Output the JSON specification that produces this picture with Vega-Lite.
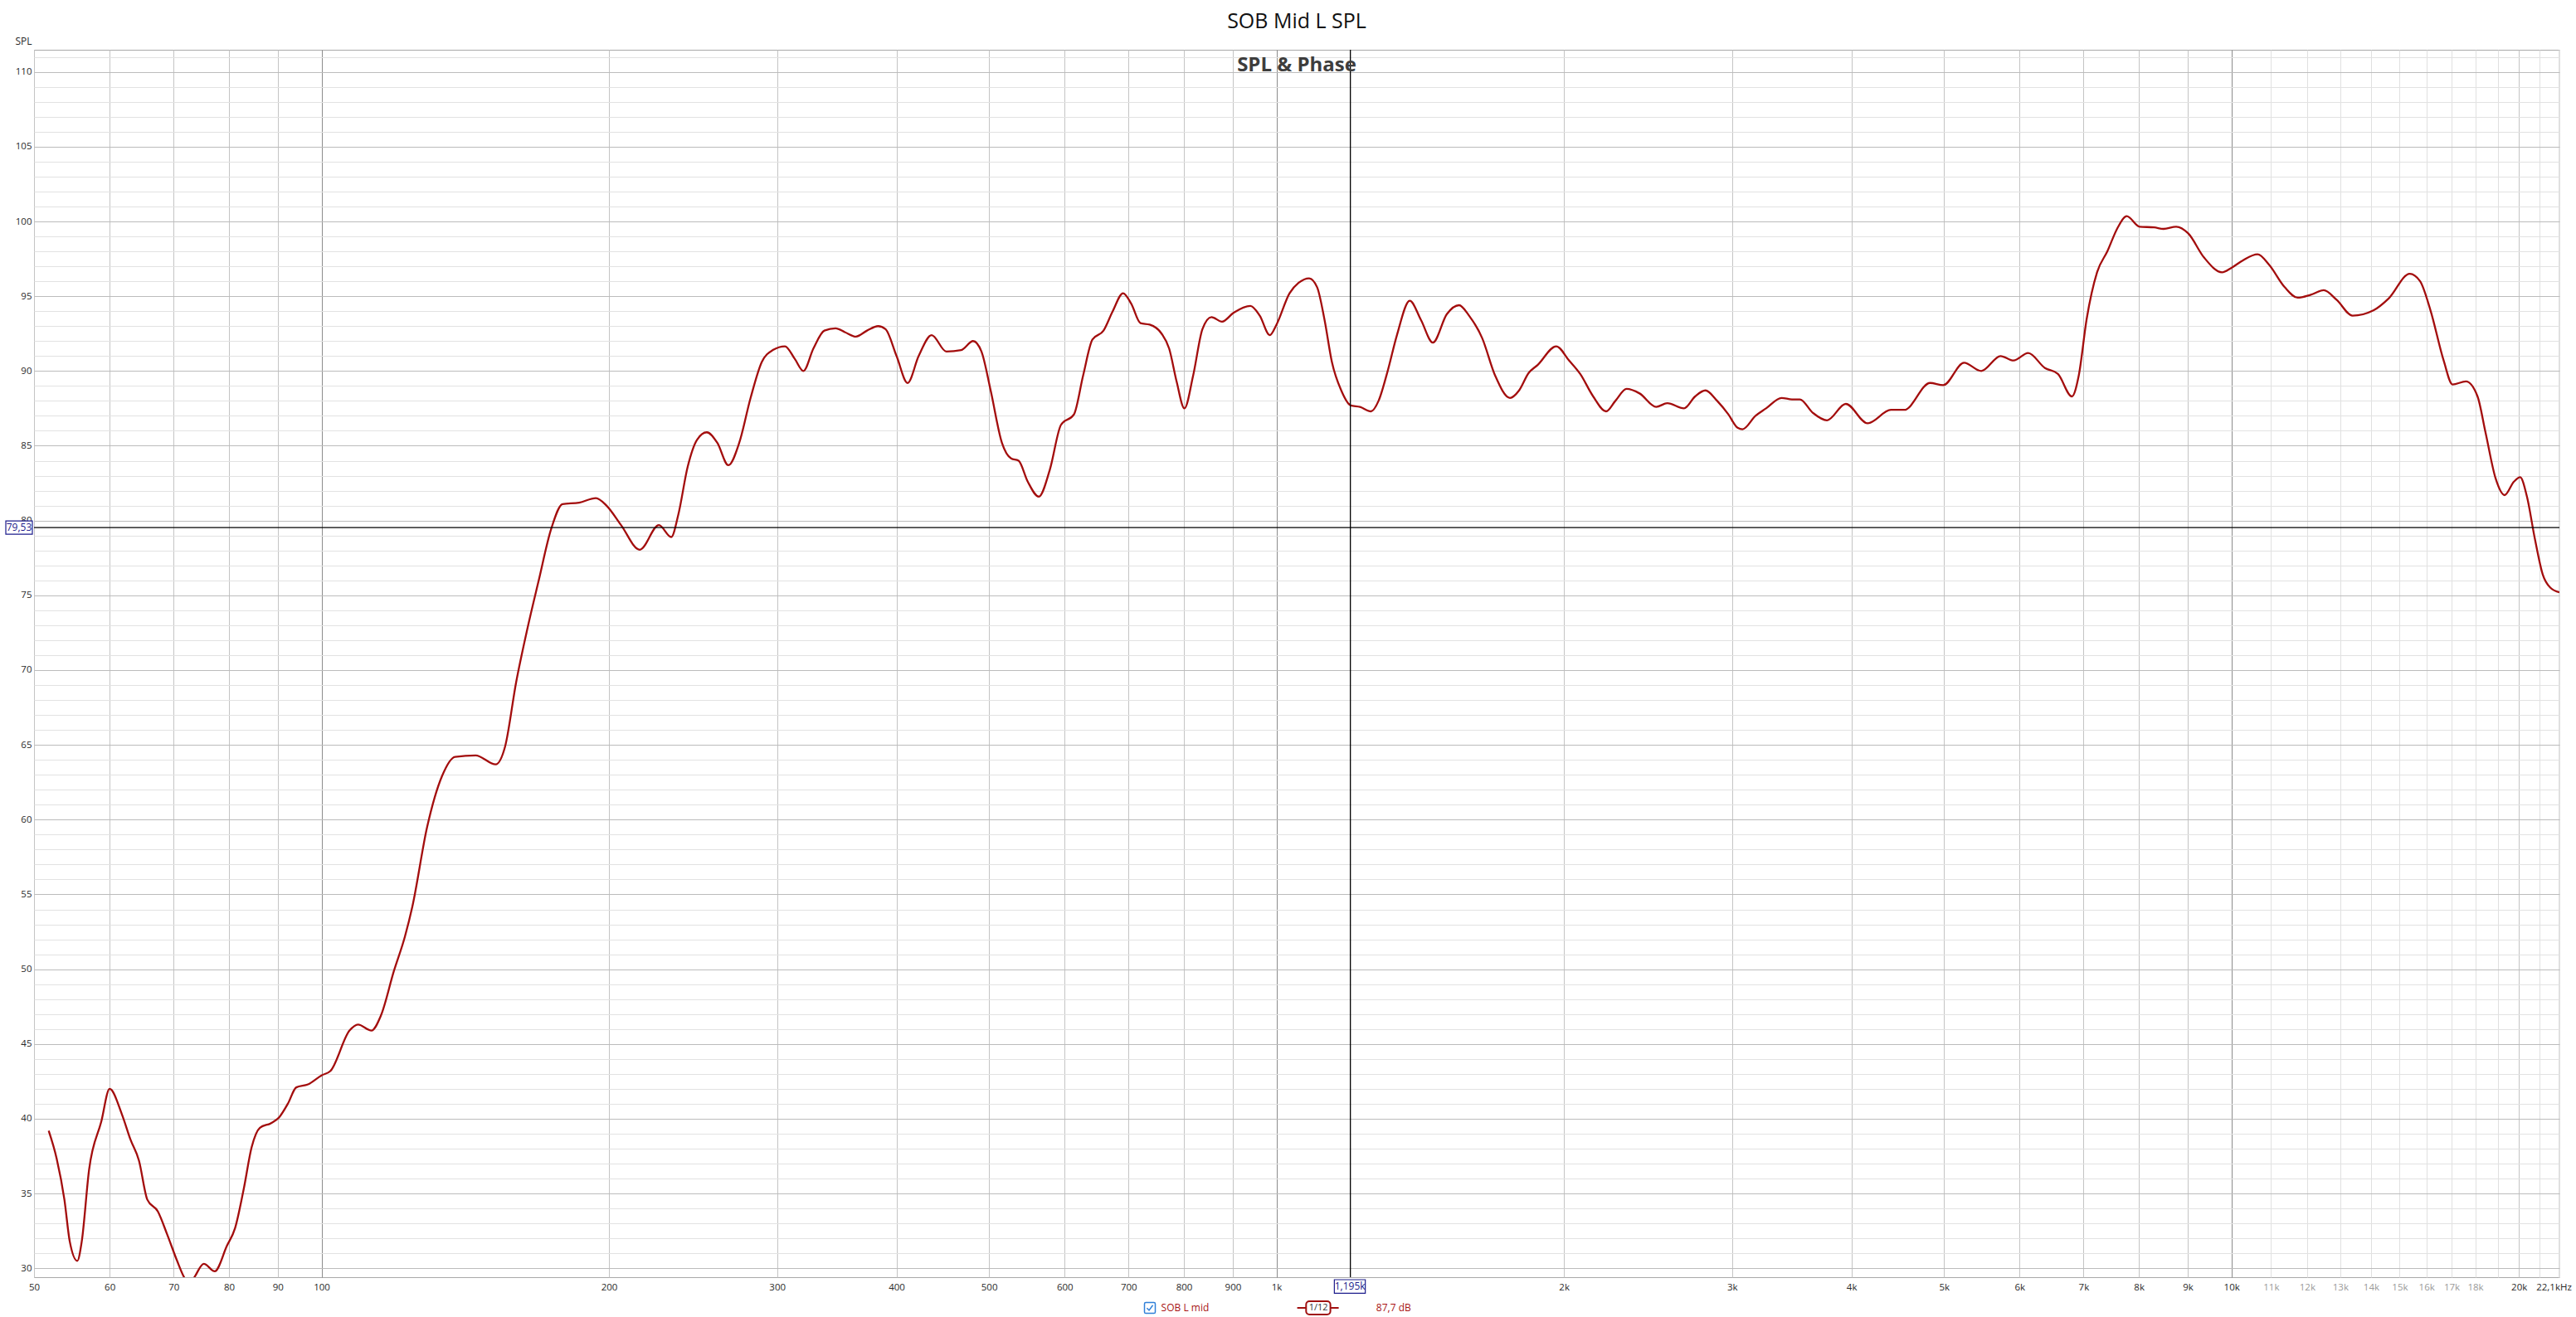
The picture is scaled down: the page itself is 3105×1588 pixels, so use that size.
{
  "$schema": "https://vega.github.io/schema/vega-lite/v6.json",
  "width": 3044,
  "height": 1480,
  "autosize": {"type": "none"},
  "padding": {"left": 41, "top": 60, "right": 20, "bottom": 48},
  "background": "white",
  "title": {
    "text": "SOB Mid L SPL",
    "subtitle": "SPL & Phase",
    "frame": "group",
    "anchor": "middle",
    "font": "Open Sans",
    "fontSize": 25,
    "fontWeight": "normal",
    "color": "#111111",
    "subtitleFont": "Open Sans",
    "subtitleFontSize": 24,
    "subtitleFontWeight": "bold",
    "subtitleColor": "#3d3d3d",
    "subtitlePadding": 28,
    "offset": -48
  },
  "config": {
    "font": "Open Sans",
    "view": {"stroke": "#a9a9a9", "strokeWidth": 1}
  },
  "layer": [
    {
      "data": {"values": [
        {"f": 51.8, "spl": 39.2}, {"f": 52.8, "spl": 37.35}, {"f": 53.8, "spl": 34.6}, {"f": 54.5, "spl": 31.8},
        {"f": 55.5, "spl": 30.5}, {"f": 56.1, "spl": 31.8}, {"f": 57.1, "spl": 36.6}, {"f": 58.8, "spl": 39.8},
        {"f": 60.0, "spl": 42.0}, {"f": 61.8, "spl": 40.3}, {"f": 63.1, "spl": 38.6}, {"f": 64.4, "spl": 37.2},
        {"f": 65.7, "spl": 34.6}, {"f": 67.4, "spl": 33.8}, {"f": 68.9, "spl": 32.3}, {"f": 70.6, "spl": 30.5},
        {"f": 71.8, "spl": 29.4}, {"f": 72.7, "spl": 28.9}, {"f": 73.6, "spl": 29.4}, {"f": 75.3, "spl": 30.3},
        {"f": 77.3, "spl": 29.8}, {"f": 79.6, "spl": 31.5}, {"f": 81.2, "spl": 32.7}, {"f": 82.9, "spl": 35.3},
        {"f": 84.5, "spl": 38.1}, {"f": 86.2, "spl": 39.4}, {"f": 88.5, "spl": 39.7}, {"f": 90.3, "spl": 40.1},
        {"f": 92.2, "spl": 41.0}, {"f": 94.1, "spl": 42.1}, {"f": 96.8, "spl": 42.3}, {"f": 100, "spl": 42.9},
        {"f": 102.2, "spl": 43.2}, {"f": 107, "spl": 45.9}, {"f": 109.2, "spl": 46.3}, {"f": 112.8, "spl": 45.9},
        {"f": 115.4, "spl": 46.9}, {"f": 119.1, "spl": 49.9}, {"f": 122.3, "spl": 52.2}, {"f": 124.5, "spl": 54.2},
        {"f": 129, "spl": 59.5}, {"f": 133.7, "spl": 62.9}, {"f": 138, "spl": 64.2}, {"f": 145, "spl": 64.3},
        {"f": 152.2, "spl": 63.7}, {"f": 155.7, "spl": 64.9}, {"f": 159.9, "spl": 69.2}, {"f": 164.2, "spl": 72.7},
        {"f": 168.7, "spl": 75.9}, {"f": 174.1, "spl": 79.5}, {"f": 178.8, "spl": 81.1}, {"f": 186.1, "spl": 81.2},
        {"f": 193.8, "spl": 81.5}, {"f": 198.8, "spl": 81.0}, {"f": 205.9, "spl": 79.7}, {"f": 215.4, "spl": 78.05},
        {"f": 225.6, "spl": 79.7}, {"f": 232.4, "spl": 78.9}, {"f": 236.4, "spl": 80.4}, {"f": 241.8, "spl": 83.6},
        {"f": 247.3, "spl": 85.4}, {"f": 253.2, "spl": 85.9}, {"f": 259.7, "spl": 85.2}, {"f": 266.7, "spl": 83.7},
        {"f": 273.8, "spl": 85.2}, {"f": 281.4, "spl": 88.2}, {"f": 289.1, "spl": 90.6}, {"f": 296.9, "spl": 91.4},
        {"f": 305.7, "spl": 91.65}, {"f": 313.1, "spl": 90.8}, {"f": 319.6, "spl": 90.0}, {"f": 327.4, "spl": 91.5},
        {"f": 336.2, "spl": 92.7}, {"f": 345.4, "spl": 92.85}, {"f": 353.2, "spl": 92.6}, {"f": 362.8, "spl": 92.3},
        {"f": 372.6, "spl": 92.7}, {"f": 382.7, "spl": 93.0}, {"f": 389.6, "spl": 92.8}, {"f": 400.1, "spl": 91.0},
        {"f": 410.9, "spl": 89.2}, {"f": 422, "spl": 91.0}, {"f": 435.4, "spl": 92.4}, {"f": 451.2, "spl": 91.3},
        {"f": 467.6, "spl": 91.4}, {"f": 481.2, "spl": 92.0}, {"f": 491, "spl": 91.3}, {"f": 502, "spl": 88.7},
        {"f": 515.8, "spl": 85.2}, {"f": 527.4, "spl": 84.15}, {"f": 537, "spl": 84.0}, {"f": 549, "spl": 82.6},
        {"f": 563.8, "spl": 81.6}, {"f": 579, "spl": 83.4}, {"f": 594.8, "spl": 86.4}, {"f": 613.7, "spl": 87.1},
        {"f": 627.4, "spl": 89.7}, {"f": 641.6, "spl": 92.1}, {"f": 659, "spl": 92.7}, {"f": 673.8, "spl": 94.0},
        {"f": 690.8, "spl": 95.2}, {"f": 704.5, "spl": 94.5}, {"f": 720.4, "spl": 93.2}, {"f": 736.6, "spl": 93.1},
        {"f": 758, "spl": 92.5}, {"f": 772, "spl": 91.5}, {"f": 786, "spl": 89.3}, {"f": 801, "spl": 87.5},
        {"f": 818, "spl": 89.7}, {"f": 836.5, "spl": 92.8}, {"f": 855, "spl": 93.6}, {"f": 877, "spl": 93.3},
        {"f": 902, "spl": 93.9}, {"f": 939, "spl": 94.35}, {"f": 960.5, "spl": 93.7}, {"f": 984, "spl": 92.4},
        {"f": 1000, "spl": 93.1}, {"f": 1032, "spl": 95.2}, {"f": 1055, "spl": 95.9}, {"f": 1082, "spl": 96.2},
        {"f": 1103, "spl": 95.6}, {"f": 1123, "spl": 93.4}, {"f": 1143, "spl": 90.6}, {"f": 1169, "spl": 88.7},
        {"f": 1196, "spl": 87.7}, {"f": 1223, "spl": 87.6}, {"f": 1256, "spl": 87.3}, {"f": 1279, "spl": 88.0},
        {"f": 1307.5, "spl": 90.0}, {"f": 1337, "spl": 92.4}, {"f": 1379, "spl": 94.7}, {"f": 1417, "spl": 93.4},
        {"f": 1458, "spl": 91.9}, {"f": 1508, "spl": 93.8}, {"f": 1553, "spl": 94.4}, {"f": 1591, "spl": 93.7},
        {"f": 1642, "spl": 92.2}, {"f": 1694, "spl": 89.7}, {"f": 1756, "spl": 88.2}, {"f": 1795, "spl": 88.7},
        {"f": 1836, "spl": 89.85}, {"f": 1877, "spl": 90.4}, {"f": 1963, "spl": 91.65}, {"f": 2025, "spl": 90.7},
        {"f": 2080, "spl": 89.8}, {"f": 2146, "spl": 88.3}, {"f": 2214, "spl": 87.3}, {"f": 2264, "spl": 88.0},
        {"f": 2326, "spl": 88.8}, {"f": 2400, "spl": 88.5}, {"f": 2498, "spl": 87.6}, {"f": 2566, "spl": 87.85},
        {"f": 2671, "spl": 87.5}, {"f": 2744, "spl": 88.3}, {"f": 2813, "spl": 88.7}, {"f": 2894, "spl": 88.0},
        {"f": 2973, "spl": 87.1}, {"f": 3040, "spl": 86.2}, {"f": 3076, "spl": 86.1}, {"f": 3174, "spl": 87.0},
        {"f": 3256, "spl": 87.5}, {"f": 3380, "spl": 88.2}, {"f": 3466, "spl": 88.1}, {"f": 3532, "spl": 88.1},
        {"f": 3645, "spl": 87.2}, {"f": 3771, "spl": 86.7}, {"f": 3946, "spl": 87.8}, {"f": 4159, "spl": 86.5},
        {"f": 4400, "spl": 87.4}, {"f": 4543, "spl": 87.4}, {"f": 4836, "spl": 89.2}, {"f": 4991, "spl": 89.05},
        {"f": 5248, "spl": 90.55}, {"f": 5470, "spl": 90.0}, {"f": 5731, "spl": 91.0}, {"f": 5913, "spl": 90.7},
        {"f": 6125, "spl": 91.2}, {"f": 6378, "spl": 90.2}, {"f": 6581, "spl": 89.8}, {"f": 6807, "spl": 88.3},
        {"f": 6920, "spl": 89.7}, {"f": 7054, "spl": 93.5}, {"f": 7232, "spl": 96.6}, {"f": 7414, "spl": 98.0},
        {"f": 7603, "spl": 99.6}, {"f": 7768, "spl": 100.35}, {"f": 8013, "spl": 99.65}, {"f": 8300, "spl": 99.6},
        {"f": 8491, "spl": 99.5}, {"f": 8752, "spl": 99.65}, {"f": 9010, "spl": 99.2}, {"f": 9357, "spl": 97.6},
        {"f": 9776, "spl": 96.6}, {"f": 10000, "spl": 96.9}, {"f": 10280, "spl": 97.4}, {"f": 10650, "spl": 97.8},
        {"f": 10950, "spl": 97.1}, {"f": 11370, "spl": 95.6}, {"f": 11730, "spl": 94.9}, {"f": 12110, "spl": 95.1},
        {"f": 12490, "spl": 95.4}, {"f": 12890, "spl": 94.75}, {"f": 13390, "spl": 93.7}, {"f": 14080, "spl": 94.05},
        {"f": 14610, "spl": 94.85}, {"f": 15370, "spl": 96.5}, {"f": 15760, "spl": 96.0}, {"f": 16160, "spl": 94.05},
        {"f": 16680, "spl": 90.7}, {"f": 17040, "spl": 89.1}, {"f": 17600, "spl": 89.3}, {"f": 18100, "spl": 88.3},
        {"f": 18450, "spl": 85.9}, {"f": 18910, "spl": 82.8}, {"f": 19320, "spl": 81.7}, {"f": 19760, "spl": 82.6},
        {"f": 20060, "spl": 82.9}, {"f": 20390, "spl": 81.6}, {"f": 20780, "spl": 78.8}, {"f": 21180, "spl": 76.4},
        {"f": 21580, "spl": 75.5}, {"f": 22050, "spl": 75.2}
      ]},
      "mark": {"type": "line", "color": "#a30d0d", "strokeWidth": 2.3, "interpolate": "monotone", "clip": true},
      "encoding": {
        "x": {
          "field": "f", "type": "quantitative",
          "scale": {"type": "log", "domain": [50, 22050], "nice": false},
          "axis": {
            "title": null,
            "tickCount": 500,
            "values": [50, 60, 70, 80, 90, 100, 200, 300, 400, 500, 600, 700, 800, 900, 1000, 2000, 3000, 4000, 5000, 6000, 7000, 8000, 9000, 10000, 11000, 12000, 13000, 14000, 15000, 16000, 17000, 18000, 19000, 20000, 21000, 22000, 22050],
            "labelExpr": "datum.value == 22050 ? '22,1kHz' : (datum.value == 19000 || datum.value == 21000 || datum.value == 22000) ? '' : datum.value >= 1000 ? (datum.value / 1000) + 'k' : '' + datum.value",
            "labelOverlap": false,
            "labelBound": false,
            "labelFlush": false,
            "ticks": false,
            "tickSize": 0,
            "domain": false,
            "labelPadding": 6,
            "labelFontSize": 11.5,
            "labelFont": "Open Sans",
            "labelOffset": {"condition": {"test": "datum.value == 22050", "value": -7}, "value": 0},
            "labelColor": {"condition": {"test": "datum.value > 10000 && datum.value < 19000", "value": "#9a9a9a"}, "value": "#2a2a2a"},
            "gridColor": {"condition": [
              {"test": "datum.value == 100 || datum.value == 1000 || datum.value == 10000", "value": "#8c8c8c"},
              {"test": "datum.value > 10000 && datum.value != 20000", "value": "#e0e0e0"}
            ], "value": "#c4c4c4"},
            "gridOpacity": 1,
            "gridWidth": 1
          }
        },
        "y": {
          "field": "spl", "type": "quantitative",
          "scale": {"domain": [29.407, 111.479], "nice": false, "zero": false},
          "axis": {
            "title": "SPL",
            "titleAngle": 0,
            "titleX": -3,
            "titleY": -7,
            "titleAlign": "right",
            "titleBaseline": "alphabetic",
            "titleFontSize": 12,
            "titleFontWeight": "normal",
            "titleColor": "#2a2a2a",
            "titleFont": "Open Sans",
            "tickCount": 500,
            "values": [30, 31, 32, 33, 34, 35, 36, 37, 38, 39, 40, 41, 42, 43, 44, 45, 46, 47, 48, 49, 50, 51, 52, 53, 54, 55, 56, 57, 58, 59, 60, 61, 62, 63, 64, 65, 66, 67, 68, 69, 70, 71, 72, 73, 74, 75, 76, 77, 78, 79, 80, 81, 82, 83, 84, 85, 86, 87, 88, 89, 90, 91, 92, 93, 94, 95, 96, 97, 98, 99, 100, 101, 102, 103, 104, 105, 106, 107, 108, 109, 110, 111],
            "labelExpr": "datum.value % 5 == 0 ? '' + datum.value : ''",
            "labelOverlap": false,
            "labelBound": false,
            "ticks": false,
            "tickSize": 0,
            "domain": false,
            "labelPadding": 3,
            "labelFontSize": 11.5,
            "labelFont": "Open Sans",
            "labelColor": "#2a2a2a",
            "gridColor": {"condition": {"test": "datum.value % 5 == 0", "value": "#bcbcbc"}, "value": "#e2e2e2"},
            "gridOpacity": 1,
            "gridWidth": 1
          }
        }
      }
    },
    {
      "data": {"values": [{}]},
      "mark": {"type": "rule", "color": "#000000", "strokeWidth": 1.3},
      "encoding": {"y": {"datum": 79.53}}
    },
    {
      "data": {"values": [{}]},
      "mark": {"type": "rule", "color": "#000000", "strokeWidth": 1.3},
      "encoding": {"x": {"datum": 1195}}
    },
    {
      "data": {"values": [{}]},
      "mark": {"type": "rect", "fill": "white", "stroke": "#1c1c8c", "strokeWidth": 1.2, "xOffset": -34, "x2Offset": -2, "yOffset": -8, "y2Offset": 8},
      "encoding": {"x": {"datum": 50}, "x2": {"datum": 50}, "y": {"datum": 79.53}, "y2": {"datum": 79.53}}
    },
    {
      "data": {"values": [{}]},
      "mark": {"type": "text", "text": "79,53", "align": "center", "baseline": "middle", "dx": -18, "fontSize": 12, "color": "#1c1c8c", "font": "Open Sans"},
      "encoding": {"x": {"datum": 50}, "y": {"datum": 79.53}}
    },
    {
      "data": {"values": [{}]},
      "mark": {"type": "rect", "fill": "white", "stroke": "#1c1c8c", "strokeWidth": 1.2, "xOffset": -19.3, "x2Offset": 18, "yOffset": 3, "y2Offset": 19.3},
      "encoding": {"x": {"datum": 1195}, "x2": {"datum": 1195}, "y": {"datum": 29.407}, "y2": {"datum": 29.407}}
    },
    {
      "data": {"values": [{}]},
      "mark": {"type": "text", "text": "1,195k", "align": "center", "baseline": "middle", "dx": -0.5, "dy": 11, "fontSize": 12, "color": "#1c1c8c", "font": "Open Sans"},
      "encoding": {"x": {"datum": 1195}, "y": {"datum": 29.407}}
    },
    {
      "data": {"values": [{}]},
      "mark": {"type": "point", "shape": "M-1,-0.75 Q-1,-1 -0.75,-1 L0.75,-1 Q1,-1 1,-0.75 L1,0.75 Q1,1 0.75,1 L-0.75,1 Q-1,1 -1,0.75 Z M-0.55,0.05 L-0.15,0.45 L0.55,-0.5", "size": 169, "filled": false, "stroke": "#2f7fd8", "strokeWidth": 1.5, "opacity": 1, "xOffset": -152.6, "yOffset": 37},
      "encoding": {"x": {"datum": 1000}, "y": {"datum": 29.407}}
    },
    {
      "data": {"values": [{}]},
      "mark": {"type": "text", "text": "SOB L mid", "align": "left", "baseline": "middle", "dx": -139, "dy": 37, "fontSize": 12, "color": "#a81414", "font": "Open Sans"},
      "encoding": {"x": {"datum": 1000}, "y": {"datum": 29.407}}
    },
    {
      "data": {"values": [{}]},
      "mark": {"type": "rule", "color": "#a01010", "strokeWidth": 2, "xOffset": 25, "x2Offset": 75, "yOffset": 37, "y2Offset": 37},
      "encoding": {"x": {"datum": 1000}, "x2": {"datum": 1000}, "y": {"datum": 29.407}, "y2": {"datum": 29.407}}
    },
    {
      "data": {"values": [{}]},
      "mark": {"type": "rect", "fill": "white", "stroke": "#a01010", "strokeWidth": 2, "cornerRadius": 4, "xOffset": 35.7, "x2Offset": 65, "yOffset": 29, "y2Offset": 45},
      "encoding": {"x": {"datum": 1000}, "x2": {"datum": 1000}, "y": {"datum": 29.407}, "y2": {"datum": 29.407}}
    },
    {
      "data": {"values": [{}]},
      "mark": {"type": "text", "text": "1/12", "align": "center", "baseline": "middle", "dx": 50.5, "dy": 37, "fontSize": 11, "color": "#333333", "font": "Open Sans"},
      "encoding": {"x": {"datum": 1000}, "y": {"datum": 29.407}}
    },
    {
      "data": {"values": [{}]},
      "mark": {"type": "text", "text": "87,7 dB", "align": "center", "baseline": "middle", "dx": 141.2, "dy": 37, "fontSize": 12, "color": "#a81414", "font": "Open Sans"},
      "encoding": {"x": {"datum": 1000}, "y": {"datum": 29.407}}
    }
  ]
}
